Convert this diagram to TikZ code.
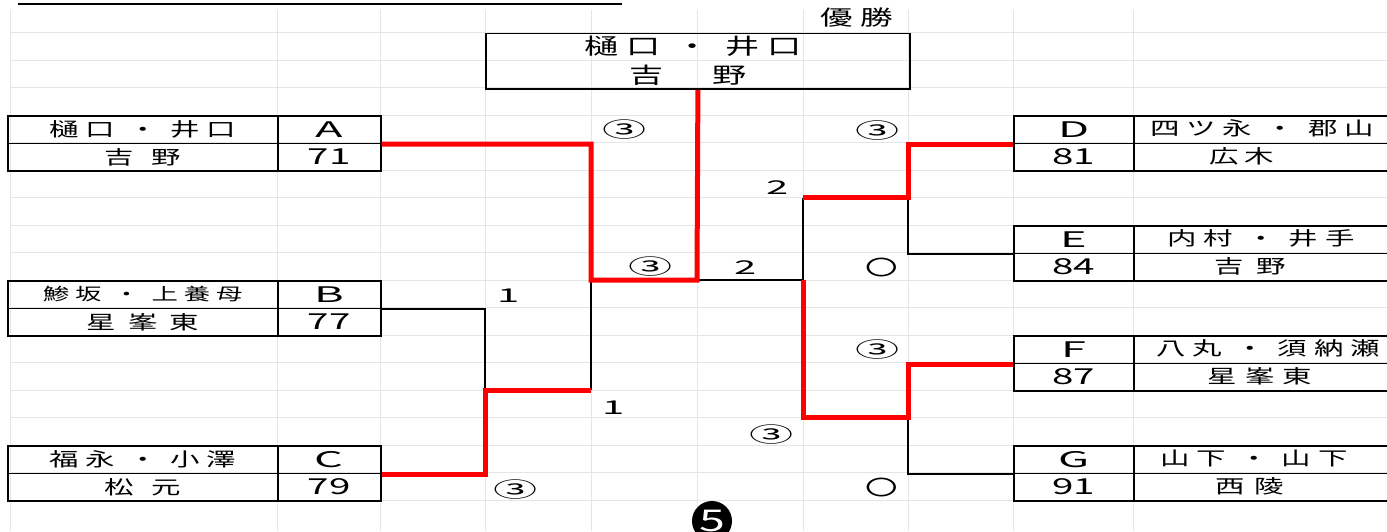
\documentclass[tikz,border=0pt]{standalone}
\usepackage{fontspec}
\setmainfont{Noto Sans CJK JP}[FakeStretch=1.55]
\newfontfamily\jpl{Noto Sans CJK JP}[FakeStretch=1.55,LetterSpace=35]
\newfontfamily\lat{Noto Sans CJK JP}[FakeStretch=2.1]
\newfontfamily\num{Noto Sans CJK JP}[FakeStretch=1.75]
\tikzset{
  gridline/.style={draw=black!10, line width=0.8pt},
  cell/.style={draw=black, line width=1.5pt, minimum height=27.5pt, inner sep=0pt, anchor=north west, font=\fontsize{19}{22}\selectfont\jpl},
  letter/.style={cell, font=\fontsize{21.5}{22}\selectfont\lat},
  number/.style={cell, font=\fontsize{22}{22}\selectfont\num},
  txt/.style={inner sep=0pt, font=\fontsize{19}{22}\selectfont\jpl},
  sc/.style={inner sep=0pt, font=\fontsize{21}{22}\selectfont\lat},
  scd/.style={inner sep=0pt, font=\fontsize{19}{20}\selectfont\lat},
  sco/.style={inner sep=0pt, font=\fontsize{21}{20}\selectfont},
  win/.style={draw=red, line width=5pt, line join=miter},
  lose/.style={draw=black, line width=1.4pt},
}
\begin{document}
\begin{tikzpicture}[x=1pt,y=-1pt]
\useasboundingbox (0,0) rectangle (1387,531);
\clip (0,0) rectangle (1387,531);
\fill[white] (0,0) rectangle (1387,531);
% spreadsheet grid
\foreach \k in {0,...,17} \draw[gridline] (10,{32.5+27.5*\k}) -- (1387,{32.5+27.5*\k});
\foreach \x in {10,277,380,485,591,697,803,908,1013,1133} \draw[gridline] (\x,10) -- (\x,531);
% title underline
\draw[line width=2.2pt] (18,4) -- (622,4);
% champion
\node[inner sep=0pt, font=\fontsize{21}{22}\selectfont\jpl] (yusho) at (857,18) {優勝};
\node[draw, line width=1.8pt, minimum width=424pt, minimum height=55.5pt, inner sep=0pt, anchor=north west, align=center, font=\fontsize{22}{29}\selectfont\jpl] (top) at (485,32.5) {樋口 ・ 井口\hspace*{10pt}\\吉　野\hspace*{20pt}};
% left teams
\node[cell, minimum width=270pt] (An) at (7,115) {樋口 ・ 井口};
\node[letter, minimum width=103pt] (Ac) at (277,115) {A};
\node[cell, minimum width=270pt] (As) at (7,142.5) {吉\hspace{18pt}野};
\node[number, minimum width=103pt] (Ag) at (277,142.5) {71};
\node[cell, minimum width=270pt, font=\fontsize{17}{20}\selectfont\jpl] (Bn) at (7,280) {鯵坂 ・ 上養母};
\node[letter, minimum width=103pt] (Bc) at (277,280) {B};
\node[cell, minimum width=270pt] (Bs) at (7,307.5) {星\hspace{12pt}峯\hspace{12pt}東};
\node[number, minimum width=103pt] (Bg) at (277,307.5) {77};
\node[cell, minimum width=270pt] (Cn) at (7,445) {福永 ・ 小澤};
\node[letter, minimum width=103pt] (Cc) at (277,445) {C};
\node[cell, minimum width=270pt] (Cs) at (7,472.5) {松\hspace{18pt}元};
\node[number, minimum width=103pt] (Cg) at (277,472.5) {79};
% right teams
\foreach \t/\y in {D/115,E/225,F/335,G/445}{
  \node[cell, minimum width=270pt] (\t n) at (1133,\y) {};
  \node[cell, minimum width=270pt] (\t s) at (1133,\y+27.5) {};
}
\node[letter, minimum width=120pt] (Dc) at (1013,115) {D};
\node[number, minimum width=120pt] (Dg) at (1013,142.5) {81};
\node[letter, minimum width=120pt] (Ec) at (1013,225) {E};
\node[number, minimum width=120pt] (Eg) at (1013,252.5) {84};
\node[letter, minimum width=120pt] (Fc) at (1013,335) {F};
\node[number, minimum width=120pt] (Fg) at (1013,362.5) {87};
\node[letter, minimum width=120pt] (Gc) at (1013,445) {G};
\node[number, minimum width=120pt] (Gg) at (1013,472.5) {91};
\node[txt] (Dnt) at (1262,128.75) {四ツ永 ・ 郡山};
\node[txt] (Dst) at (1242,156.25) {広\hspace{6pt}木};
\node[txt] (Ent) at (1261,238.75) {内村 ・ 井手};
\node[txt] (Est) at (1250,266.25) {吉\hspace{12pt}野};
\node[txt] (Fnt) at (1268,348.75) {八丸 ・ 須納瀬};
\node[txt] (Fst) at (1260,376.25) {星\hspace{8pt}峯\hspace{8pt}東};
\node[txt] (Gnt) at (1254,458.75) {山下 ・ 山下};
\node[txt] (Gst) at (1250,486.25) {西\hspace{10pt}陵};
% bracket corners
\coordinate (L1) at (591,280);
\coordinate (L2) at (485,390);
\coordinate (L3) at (591,390);
\coordinate (F1) at (697,280);
\coordinate (F2) at (803,280);
\coordinate (R1) at (908,197.5);
\coordinate (R2) at (803,197.5);
\coordinate (R3) at (908,417.5);
\coordinate (R4) at (803,417.5);
% losing lines
\draw[lose] (Bc.south east) -| (L2);
\draw[lose] (L3) -- (L1);
\draw[lose] (Ec.south west) -| (R1);
\draw[lose] (R2) -- (F2) -- (F1);
\draw[lose] (Gc.south west) -| (R3);
% winning lines
\draw[win] (Ac.south east) -| (L1) -- (F1) -- (top.south);
\draw[win] (Cc.south east) -| (L2) -- (L3);
\draw[win] (Dc.south west) -| (R1) -- (R2);
\draw[win] (Fc.south west) -| (R3) -- (R4) -- (F2);
% scores
\node[sc] (s1) at (625,130) {③};
\node[sc] (s2) at (651,267) {③};
\node[scd] (s3) at (509,296) {1};
\node[scd] (s4) at (614,408) {1};
\node[sc] (s5) at (516,490) {③};
\node[sc] (s6) at (878,131) {③};
\node[scd] (s7) at (778,188) {2};
\node[scd] (s8) at (746,268) {2};
\node[sco] (s9) at (882,268) {〇};
\node[sc] (s10) at (878,350) {③};
\node[sc] (s11) at (772,435) {③};
\node[sco] (s12) at (882,488) {〇};
% page number
\node[circle, fill=black, text=white, minimum size=40pt, inner sep=0pt, font=\fontsize{30}{30}\selectfont] (five) at (712,521) {5};
\end{tikzpicture}
\end{document}
